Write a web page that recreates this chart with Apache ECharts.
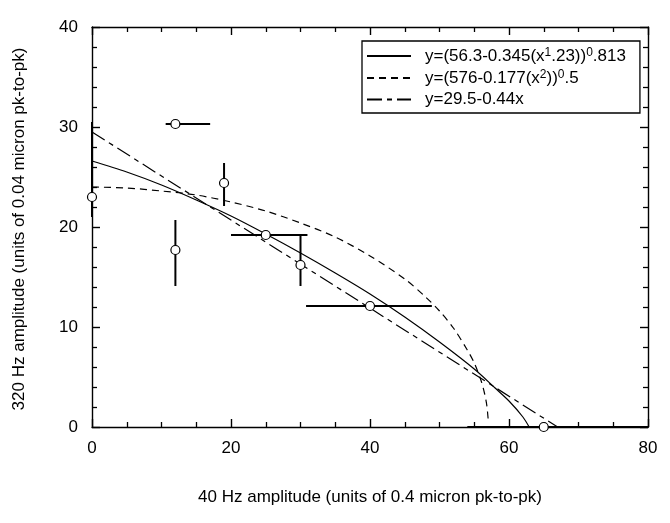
<!DOCTYPE html>
<html>
<head>
<meta charset="utf-8">
<script src="https://cdn.jsdelivr.net/npm/echarts@6/dist/echarts.min.js"></script>
<style>html,body{margin:0;padding:0;background:#fff}#c{width:670px;height:523px}</style>
</head>
<body>
<div id="c"></div>
<script>
// ---- data ----
const xTicks = [0, 20, 40, 60, 80];
const yTicks = [0, 10, 20, 30, 40];

const pointX = [0, 12, 12, 19, 25, 30, 40, 65];
const pointY = [23.0, 30.3, 17.7, 24.4, 19.2, 16.2, 12.1, 0];
const xErrLow  = [null, 10.6, null, null, 20.0, null, 30.8, 54.0];
const xErrHigh = [null, 17.0, null, null, 31.0, null, 48.9, 80.0];
const yErrLow  = [21.0, null, 14.1, 22.1, null, 14.1, null, null];
const yErrHigh = [30.5, null, 20.7, 26.4, null, 19.2, null, null];

const curveNames = ['y=(56.3-0.345(x1.23))0.813', 'y=(576-0.177(x2))0.5', 'y=29.5-0.44x'];
const curveLabels = [
  '{sp|}{n|y=(56.3-0.345(x}{s|1}{n|.23))}{s|0}{n|.813}',
  '{sp|}{n|y=(576-0.177(x}{s|2}{n|))}{s|0}{n|.5}',
  '{sp|}{n|y=29.5-0.44x}'
];
const solidX = [0, 5, 10, 15, 20, 25, 30, 35, 40, 45, 50, 55, 58, 60, 62, 62.9];
const solidY = [26.6, 25.5, 24.2, 22.7, 21.1, 19.3, 17.4, 15.4, 13.3, 11.0, 8.5, 5.8, 3.9, 2.6, 1.0, 0];
const dashX = [0, 5, 10, 15, 20, 25, 30, 35, 40, 45, 48, 50, 52, 54, 55, 56, 56.5, 56.8, 57.0];
const dashY = [24.0, 23.9, 23.6, 23.2, 22.5, 21.6, 20.4, 19.0, 17.1, 14.8, 13.0, 11.6, 9.9, 7.7, 6.4, 4.6, 3.3, 2.2, 0.8];
const dotX = [0, 67];
const dotY = [29.5, 0];

const xName = '40 Hz amplitude (units of 0.4 micron pk-to-pk)';
const yName = '320 Hz amplitude (units of 0.04 micron pk-to-pk)';

// ---- build ----
const FONT = 'Liberation Sans, Arial, sans-serif';
const zip = (a, b) => a.map((v, i) => [v, b[i]]);
const hBars = [], vBars = [];
pointX.forEach((x, i) => {
  if (xErrLow[i] != null) hBars.push([pointY[i], xErrLow[i], xErrHigh[i]]);
  if (yErrLow[i] != null) vBars.push([x, yErrLow[i], yErrHigh[i]]);
});

const chart = echarts.init(document.getElementById('c'), null, {renderer: 'canvas'});

function mkAxis(ticks, position, split, showLabel, margin) {
  return {
    type: 'value',
    position: position,
    min: ticks[0], max: ticks[ticks.length - 1], interval: ticks[1] - ticks[0],
    axisLine: {show: true, onZero: false, lineStyle: {color: '#000', width: 1.4}},
    axisTick: {show: true, inside: true, length: 8, lineStyle: {color: '#000', width: 1.4}},
    minorTick: {show: true, splitNumber: split, length: 5, lineStyle: {color: '#000', width: 1.3}},
    splitLine: {show: false},
    minorSplitLine: {show: false},
    axisLabel: showLabel ? {show: true, fontSize: 17, color: '#000', fontFamily: FONT, margin: margin} : {show: false}
  };
}

const option = {
  backgroundColor: '#fff',
  animation: false,
  grid: {left: 92, right: 22, top: 27, bottom: 96, outerBoundsMode: 'none', containLabel: false},
  xAxis: [mkAxis(xTicks, 'bottom', 4, true, 13), mkAxis(xTicks, 'top', 4, false, 0)],
  yAxis: [mkAxis(yTicks, 'left', 5, true, 14), mkAxis(yTicks, 'right', 5, false, 0)],
  legend: {
    data: curveNames,
    orient: 'vertical',
    left: 362, top: 41,
    itemWidth: 44, itemHeight: 14, itemGap: 3,
    padding: [6, 14, 5, 4],
    borderColor: '#000', borderWidth: 1.3,
    backgroundColor: '#fff',
    itemStyle: {opacity: 0},
    textStyle: {
      color: '#000', fontFamily: FONT, fontSize: 17,
      rich: {
        sp: {width: 9},
        n: {fontSize: 17, fontFamily: FONT, color: '#000', lineHeight: 18},
        s: {fontSize: 12, fontFamily: FONT, color: '#000', lineHeight: 12, verticalAlign: 'top', padding: [0, 0, 7, 0]}
      }
    },
    formatter: name => curveLabels[curveNames.indexOf(name)]
  },
  graphic: [
    {type: 'text', x: 370, y: 497, style: {text: xName, font: '17px ' + FONT, fill: '#000', align: 'center', verticalAlign: 'middle'}},
    {type: 'text', x: 19, y: 229, rotation: Math.PI / 2, style: {text: yName, font: '17px ' + FONT, fill: '#000', align: 'center', verticalAlign: 'middle'}}
  ],
  series: [
    {name: curveNames[0], type: 'line', data: zip(solidX, solidY), showSymbol: false, symbol: 'none', smooth: 0.3,
     lineStyle: {color: '#000', width: 1.2, type: 'solid'}, itemStyle: {color: '#000'}, z: 3},
    {name: curveNames[1], type: 'line', data: zip(dashX, dashY), showSymbol: false, symbol: 'none', smooth: 0.3,
     lineStyle: {color: '#000', width: 1.2, type: [7, 5]}, itemStyle: {color: '#000'}, z: 3},
    {name: curveNames[2], type: 'line', data: zip(dotX, dotY), showSymbol: false, symbol: 'none',
     lineStyle: {color: '#000', width: 1.2, type: [15, 5, 5, 5]}, itemStyle: {color: '#000'}, z: 3},
    {type: 'custom', data: hBars, encode: {x: [1, 2], y: 0}, z: 4, silent: true,
     renderItem: (params, api) => {
       const a = api.coord([api.value(1), api.value(0)]);
       const b = api.coord([api.value(2), api.value(0)]);
       return {type: 'line', shape: {x1: a[0], y1: a[1], x2: b[0], y2: b[1]}, style: {stroke: '#000', lineWidth: 2}};
     }},
    {type: 'custom', data: vBars, encode: {x: 0, y: [1, 2]}, z: 4, silent: true,
     renderItem: (params, api) => {
       const a = api.coord([api.value(0), api.value(1)]);
       const b = api.coord([api.value(0), api.value(2)]);
       return {type: 'line', shape: {x1: a[0], y1: a[1], x2: b[0], y2: b[1]}, style: {stroke: '#000', lineWidth: 2}};
     }},
    {type: 'scatter', data: zip(pointX, pointY), symbol: 'circle', symbolSize: 9, z: 5, silent: true,
     itemStyle: {color: '#fff', borderColor: '#000', borderWidth: 1.2, opacity: 1}}
  ]
};
chart.setOption(option);
</script>
</body>
</html>
